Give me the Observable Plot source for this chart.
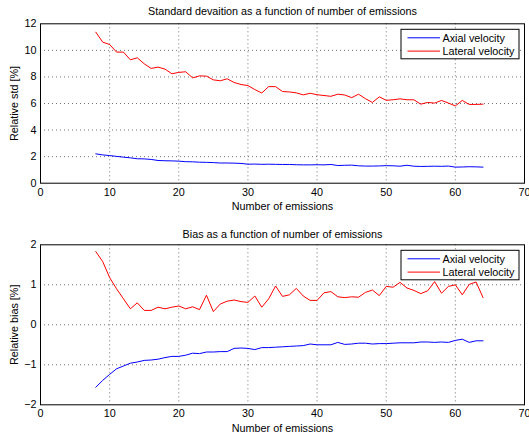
<!DOCTYPE html>
<html>
<head>
<meta charset="utf-8">
<script src="https://cdn.jsdelivr.net/npm/d3@7"></script>
<script src="https://cdn.jsdelivr.net/npm/@observablehq/plot@0.6"></script>
<style>
  html, body { margin: 0; padding: 0; background: #fff; }
  #chart { width: 529px; }
  #chart svg { display: block; }
</style>
</head>
<body>
<div id="chart"></div>
<script>
// Number of emissions (x)
const emissions = [8, 9, 10, 11, 12, 13, 14, 15, 16, 17, 18, 19, 20, 21, 22, 23, 24, 25, 26, 27,
  28, 29, 30, 31, 32, 33, 34, 35, 36, 37, 38, 39, 40, 41, 42, 43, 44, 45, 46, 47,
  48, 49, 50, 51, 52, 53, 54, 55, 56, 57, 58, 59, 60, 61, 62, 63, 64];

// Relative standard deviation [%]
const stdAxial = [2.21, 2.13, 2.08, 2.02, 1.96, 1.91, 1.84, 1.83, 1.79, 1.71, 1.69, 1.68, 1.66, 1.62, 1.61, 1.58, 1.57, 1.55, 1.52, 1.52,
  1.51, 1.49, 1.43, 1.44, 1.42, 1.43, 1.42, 1.41, 1.41, 1.39, 1.38, 1.38, 1.39, 1.38, 1.41, 1.33, 1.35, 1.36, 1.31, 1.29,
  1.29, 1.30, 1.32, 1.31, 1.28, 1.35, 1.28, 1.26, 1.27, 1.28, 1.27, 1.29, 1.21, 1.22, 1.24, 1.23, 1.21];
const stdLateral = [11.37, 10.62, 10.44, 9.87, 9.87, 9.29, 9.44, 8.99, 8.64, 8.74, 8.59, 8.24, 8.34, 8.39, 7.93, 8.08, 8.06, 7.78, 7.71, 7.86,
  7.58, 7.43, 7.35, 7.05, 6.79, 7.27, 7.27, 6.90, 6.87, 6.80, 6.65, 6.77, 6.66, 6.60, 6.54, 6.70, 6.64, 6.44, 6.70, 6.36,
  6.08, 6.50, 6.24, 6.28, 6.35, 6.28, 6.28, 5.95, 6.08, 6.03, 6.23, 6.03, 5.82, 6.23, 5.93, 5.93, 5.95];

// Relative bias [%]
const biasAxial = [-1.56, -1.39, -1.24, -1.10, -1.03, -0.96, -0.93, -0.89, -0.88, -0.86, -0.82, -0.79, -0.79, -0.76, -0.71, -0.72, -0.68, -0.68, -0.67, -0.67,
  -0.59, -0.58, -0.59, -0.62, -0.57, -0.57, -0.56, -0.55, -0.54, -0.53, -0.52, -0.48, -0.50, -0.50, -0.50, -0.44, -0.49, -0.48, -0.46, -0.46,
  -0.48, -0.47, -0.47, -0.46, -0.45, -0.45, -0.45, -0.43, -0.43, -0.44, -0.43, -0.44, -0.39, -0.36, -0.44, -0.40, -0.40];
const biasLateral = [1.83, 1.58, 1.18, 0.90, 0.65, 0.40, 0.55, 0.36, 0.36, 0.44, 0.40, 0.44, 0.47, 0.40, 0.45, 0.38, 0.74, 0.33, 0.52, 0.59,
  0.62, 0.58, 0.56, 0.72, 0.44, 0.65, 0.97, 0.71, 0.75, 0.91, 0.72, 0.61, 0.61, 0.80, 0.83, 0.70, 0.68, 0.70, 0.69, 0.81,
  0.87, 0.73, 0.96, 0.94, 1.06, 0.92, 0.86, 0.78, 0.85, 1.08, 0.79, 0.96, 1.00, 0.75, 1.01, 1.07, 0.68];

const seriesNames = ["Axial velocity", "Lateral velocity"];
const seriesColors = ["#0000ff", "#ff0000"];

const xTicks = [0, 10, 20, 30, 40, 50, 60, 70];
const stdTicks = [0, 2, 4, 6, 8, 10, 12];
const biasTicks = [-2, -1, 0, 1, 2];

const FONT = "'Liberation Sans', Arial, Helvetica, sans-serif";
const FS = 10.8;
const intFormat = d => (d < 0 ? "\u2212" : "") + Math.abs(d);

function panel({title, titleOffset, yLabel, yDomain, yTicks, axial, lateral, height, marginTop, marginBottom}) {
  const rows = [];
  emissions.forEach((n, i) => {
    rows.push({n, v: axial[i], s: seriesNames[0]});
    rows.push({n, v: lateral[i], s: seriesNames[1]});
  });
  const grid = {stroke: "#000", strokeOpacity: 0.55, strokeDasharray: "1,3", strokeWidth: 1};
  const chart = Plot.plot({
    width: 529,
    height,
    marginLeft: 40,
    marginRight: 5,
    marginTop,
    marginBottom,
    style: {fontFamily: FONT, fontSize: FS + "px", color: "#000", background: "#fff"},
    x: {domain: [0, 70], ticks: xTicks, tickFormat: intFormat, tickSize: 0, tickPadding: 5,
        label: "Number of emissions", labelAnchor: "center", labelArrow: "none", labelOffset: 27},
    y: {domain: yDomain, ticks: yTicks, tickFormat: intFormat, tickSize: 0, tickPadding: 4,
        label: yLabel, labelAnchor: "center", labelArrow: "none", labelOffset: 30},
    color: {domain: seriesNames, range: seriesColors},
    marks: [
      Plot.gridX(xTicks.slice(1, -1), grid),
      Plot.gridY(yTicks.slice(1, -1), grid),
      Plot.line(rows, {x: "n", y: "v", z: "s", stroke: "s", strokeWidth: 1}),
      Plot.frame({stroke: "#000", strokeWidth: 1}),
      Plot.text([title], {frameAnchor: "top", lineAnchor: "middle", dy: -titleOffset, fontSize: FS, text: d => d})
    ]
  });

  // Legend box in the upper right corner of the axes
  const xr = chart.scale("x").range;
  const yr = chart.scale("y").range;
  const boxW = 118, boxH = 29.5;
  const bx = xr[1] - 5 - boxW;
  const by = Math.min(...yr) + 6;
  const g = d3.select(chart).append("g")
    .attr("font-family", FONT).attr("font-size", FS).attr("text-anchor", "start");
  g.append("rect").attr("x", bx).attr("y", by).attr("width", boxW).attr("height", boxH)
    .attr("fill", "#fff").attr("stroke", "#000").attr("stroke-width", 1);
  seriesNames.forEach((name, i) => {
    const ly = by + 8.5 + i * 13.3;
    g.append("line").attr("x1", bx + 6.5).attr("x2", bx + 39).attr("y1", ly).attr("y2", ly)
      .attr("stroke", seriesColors[i]).attr("stroke-width", 1);
    g.append("text").attr("x", bx + 41.5).attr("y", ly).attr("dy", "0.35em")
      .attr("text-anchor", "start").attr("fill", "#000").text(name);
  });
  return chart;
}

const root = document.getElementById("chart");
root.append(panel({
  title: "Standard devaition as a function of number of emissions",
  titleOffset: 12.5,
  yLabel: "Relative std [%]",
  yDomain: [0, 12], yTicks: stdTicks,
  axial: stdAxial, lateral: stdLateral,
  height: 218, marginTop: 23.3, marginBottom: 35.3
}));
root.append(panel({
  title: "Bias as a function of number of emissions",
  titleOffset: 10.5,
  yLabel: "Relative bias [%]",
  yDomain: [-2, 2], yTicks: biasTicks,
  axial: biasAxial, lateral: biasLateral,
  height: 219, marginTop: 26.3, marginBottom: 32.7
}));
</script>
</body>
</html>
